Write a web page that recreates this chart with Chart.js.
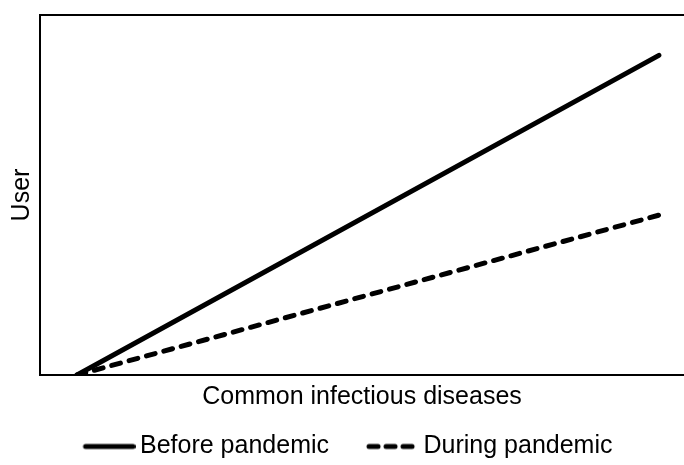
<!DOCTYPE html>
<html>
<head>
<meta charset="utf-8">
<script src="https://cdn.jsdelivr.net/npm/chart.js@4/dist/chart.umd.min.js"></script>
<style>
  html, body { margin: 0; padding: 0; background: #ffffff; }
  #wrap { width: 684px; height: 465px; position: relative; }
</style>
</head>
<body>
<div id="wrap"><canvas id="userChart"></canvas></div>
<script>
// Data (axis runs 0..100 on both sides, no ticks shown)
const xValues = [5.75, 96.1];
const beforeValues = [0, 88.8];
const duringValues = [0, 44.4];
const seriesLabels = ['Before pandemic', 'During pandemic'];

const ink = '#000000';
const fontFamily = '"Liberation Sans", Arial, Helvetica, sans-serif';

const toPoints = (ys) => xValues.map((x, i) => ({ x: x, y: ys[i] }));

// little swatch images for the legend (solid / dashed stroke)
function makeSwatch(dash) {
    const c = document.createElement('canvas');
    c.width = 90;
    c.height = 8;
    const g = c.getContext('2d');
    g.strokeStyle = ink;
    g.lineWidth = 5;
    g.lineCap = 'round';
    g.setLineDash(dash);
    g.beginPath();
    g.moveTo(40, 4);
    g.lineTo(87.5, 4);
    g.stroke();
    return c;
}
const swatches = [makeSwatch([]), makeSwatch([9, 8])];

const ctx = document.getElementById('userChart');

new Chart(ctx, {
    type: 'line',
    data: {
        datasets: [{
            label: seriesLabels[0],
            data: toPoints(beforeValues),
            borderColor: ink,
            backgroundColor: ink,
            borderWidth: 5,
            borderCapStyle: 'round',
            pointRadius: 0,
            tension: 0
        }, {
            label: seriesLabels[1],
            data: toPoints(duringValues),
            borderColor: ink,
            backgroundColor: ink,
            borderWidth: 5,
            borderCapStyle: 'round',
            borderDash: [9, 9],
            pointRadius: 0,
            tension: 0
        }]
    },
    options: {
        responsive: true,
        maintainAspectRatio: false,
        animation: false,
        layout: {
            padding: { top: 15, left: -18, right: 0, bottom: -4 }
        },
        plugins: {
            legend: {
                display: true,
                position: 'bottom',
                labels: {
                    usePointStyle: true,
                    pointStyleWidth: 74,
                    color: ink,
                    padding: 8,
                    font: { family: fontFamily, size: 25 },
                    generateLabels: (chart) => {
                        const items = Chart.defaults.plugins.legend.labels.generateLabels(chart);
                        items.forEach((item, i) => { item.pointStyle = swatches[i]; });
                        return items;
                    }
                }
            },
            tooltip: { enabled: false }
        },
        scales: {
            x: {
                type: 'linear',
                min: 0,
                max: 100,
                grid: { display: false, drawTicks: false, tickLength: 0 },
                border: { display: true, color: ink, width: 2 },
                ticks: { display: false },
                title: {
                    display: true,
                    text: 'Common infectious diseases',
                    color: ink,
                    font: { family: fontFamily, size: 25 },
                    padding: { top: 7, bottom: 14 }
                }
            },
            xTop: {
                type: 'linear',
                position: 'top',
                min: 0,
                max: 100,
                grid: { display: false, drawTicks: false, tickLength: 0 },
                border: { display: true, color: ink, width: 2 },
                ticks: { display: false }
            },
            y: {
                min: 0,
                max: 100,
                grid: { display: false, drawTicks: false, tickLength: 0 },
                border: { display: true, color: ink, width: 2 },
                ticks: { display: false },
                title: {
                    display: true,
                    text: 'User',
                    color: ink,
                    font: { family: fontFamily, size: 25 },
                    padding: { top: 25, bottom: 3 }
                }
            }
        }
    }
});
</script>
</body>
</html>
